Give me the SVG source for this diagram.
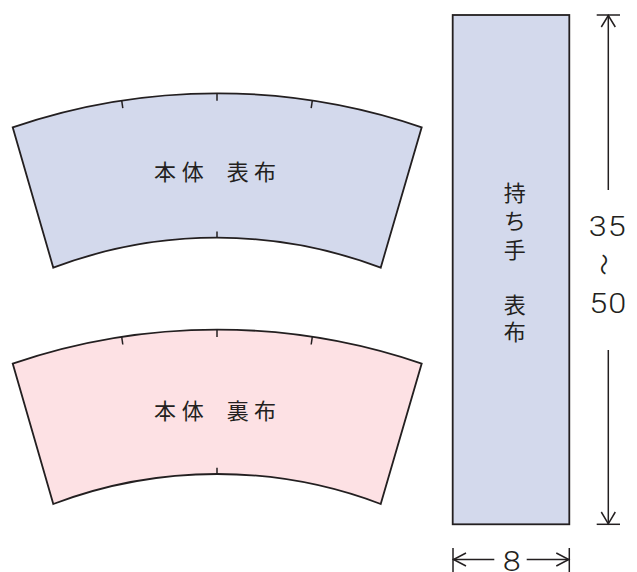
<svg xmlns="http://www.w3.org/2000/svg" width="637" height="572" viewBox="0 0 637 572">
<style>
.piece{stroke:#231f20;stroke-width:1.8;stroke-linejoin:miter}
.blue{fill:#d3d9ec}
.pink{fill:#fde1e4}
.tick{stroke:#231f20;stroke-width:1.5;fill:none}
.dim{stroke:#231f20;stroke-width:1.5;fill:none}
.lbl{font-family:"Noto Sans CJK JP","Noto Sans",sans-serif;font-size:22px;fill:#231f20}
.num{font-family:Roboto,"Liberation Sans",Arial,sans-serif;font-weight:300;font-size:27px;fill:#231f20;text-anchor:middle}
</style>
<defs>
<g id="bodyTicks">
<line class="tick" x1="217" y1="93.3" x2="217" y2="100.8"/>
<line class="tick" x1="121.7" y1="100.6" x2="122.8" y2="108.2"/>
<line class="tick" x1="312.3" y1="100.6" x2="311.2" y2="108.2"/>
<line class="tick" x1="217" y1="237.7" x2="217" y2="231.5"/>
</g>
</defs>
<g id="body-outer">
<path class="piece blue" d="M12.7,127.3 A632,632 0 0 1 421.7,127.3 L380.7,267.7 A461.6,461.6 0 0 0 53.3,267.7 Z"/>
<use href="#bodyTicks"/>
<text class="lbl" x="154 181.7 205 226.7 254" y="180">本体 表布</text>
</g>
<g id="body-lining">
<g transform="translate(0,236.3)">
<path class="piece pink" d="M12.7,127.3 A632,632 0 0 1 421.7,127.3 L380.7,267.7 A461.6,461.6 0 0 0 53.3,267.7 Z"/>
<use href="#bodyTicks"/>
</g>
<text class="lbl" x="154 181.7 205 226.7 254" y="419.3">本体 裏布</text>
</g>
<g id="handle">
<rect class="piece blue" x="452.7" y="15" width="116.6" height="509.3"/>
<text class="lbl" text-anchor="middle" x="514.7 514.7 514.7 514.7 514.7 514.7" y="201 229.3 258.3 285 312.5 340">持ち手 表布</text>
</g>
<g id="connectors">
<line class="dim" x1="596.7" y1="15" x2="620" y2="15"/>
<line class="dim" x1="608.3" y1="15" x2="608.3" y2="190"/>
<polyline class="dim" points="601.3,27 608.3,15.5 615.3,27"/>
<line class="dim" x1="596.7" y1="524.3" x2="620" y2="524.3"/>
<line class="dim" x1="608.3" y1="350" x2="608.3" y2="524.3"/>
<polyline class="dim" points="601.3,512 608.3,523.8 615.3,512"/>
<line class="dim" x1="453" y1="548" x2="453" y2="572"/>
<line class="dim" x1="453" y1="559.5" x2="494.3" y2="559.5"/>
<polyline class="dim" points="466,553 453.5,559.5 466,566"/>
<line class="dim" x1="569.3" y1="548" x2="569.3" y2="572"/>
<line class="dim" x1="526.7" y1="559.5" x2="569.3" y2="559.5"/>
<polyline class="dim" points="556.3,553 568.8,559.5 556.3,566"/>
</g>
<g id="dim-labels">
<text class="num" transform="translate(607.8,236) scale(1.2,1)" letter-spacing="1">35</text>
<text class="lbl" transform="translate(606,264.5) rotate(90)" text-anchor="middle" dominant-baseline="central" font-size="20">〜</text>
<text class="num" transform="translate(608.3,313) scale(1.2,1)" letter-spacing="1">50</text>
<text class="num" transform="translate(511.7,571) scale(1.2,1)">8</text>
</g>
</svg>
